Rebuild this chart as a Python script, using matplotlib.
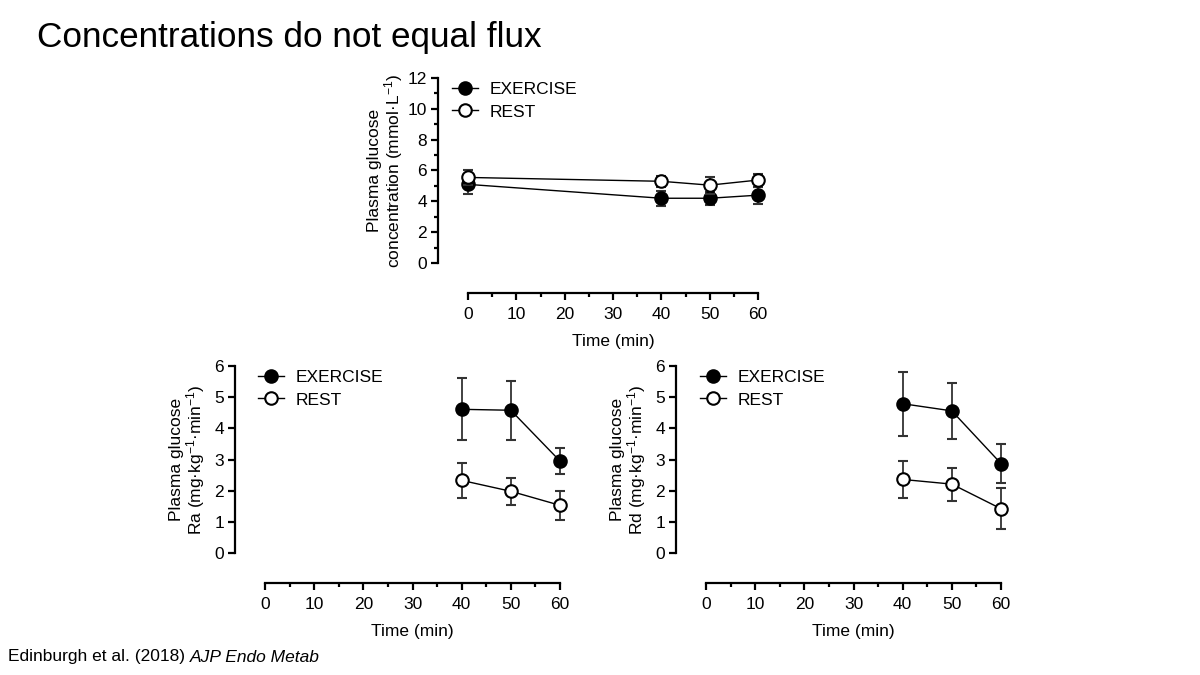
import matplotlib
matplotlib.use("Agg")
import matplotlib.pyplot as plt
from matplotlib.ticker import MultipleLocator
from matplotlib.lines import Line2D

plt.rcParams['font.family'] = ['Liberation Sans', 'DejaVu Sans']
plt.rcParams['mathtext.fontset'] = 'custom'
plt.rcParams['mathtext.rm'] = 'Liberation Sans'
plt.rcParams['mathtext.it'] = 'Liberation Sans:italic'
plt.rcParams['mathtext.default'] = 'regular'

# ---- data ----
time = [0, 40, 50, 60]
conc_ex = [5.1, 4.2, 4.2, 4.4]
conc_ex_err = [0.6, 0.48, 0.42, 0.55]
conc_rest = [5.55, 5.3, 5.05, 5.38]
conc_rest_err = [0.47, 0.35, 0.55, 0.42]

time_flux = [40, 50, 60]
ra_ex = [4.61, 4.58, 2.95]
ra_ex_err = [0.99, 0.94, 0.43]
ra_rest = [2.33, 1.98, 1.53]
ra_rest_err = [0.56, 0.44, 0.47]

rd_ex = [4.79, 4.56, 2.87]
rd_ex_err = [1.02, 0.91, 0.62]
rd_rest = [2.36, 2.21, 1.42]
rd_rest_err = [0.58, 0.53, 0.66]

labels = ['EXERCISE', 'REST']

fig = plt.figure(figsize=(12, 6.75), dpi=100)

W, H = 1200.0, 675.0

def make_ax(x0, x1, y_top, y_bot):
    return fig.add_axes([x0 / W, 1 - y_bot / H, (x1 - x0) / W, (y_bot - y_top) / H])

ax_top = make_ax(468, 758, 78, 263)
ax_ra = make_ax(265, 560, 366, 553)
ax_rd = make_ax(706, 1001, 366, 553)

MS = 9

def style(ax, ymax, ymajor, yminor, ylabel, leg_x, ylabelpad):
    ax.set_xlim(0, 60)
    ax.set_ylim(0, ymax)
    for s in ['top', 'right']:
        ax.spines[s].set_visible(False)
    ax.spines['left'].set_position(('outward', 21.5))
    ax.spines['bottom'].set_position(('outward', 21.5))
    for s in ['left', 'bottom']:
        ax.spines[s].set_linewidth(1.6)
    ax.xaxis.set_major_locator(MultipleLocator(10))
    ax.xaxis.set_minor_locator(MultipleLocator(5))
    ax.yaxis.set_major_locator(MultipleLocator(ymajor))
    if yminor:
        ax.yaxis.set_minor_locator(MultipleLocator(yminor))
    ax.tick_params(which='major', length=5, width=1.6, labelsize=12.5, pad=3)
    ax.tick_params(axis='x', which='major', pad=5)
    ax.tick_params(which='minor', length=3, width=1.6)
    ax.set_xlabel('Time (min)', fontsize=12.5, labelpad=9)
    ax.set_ylabel(ylabel, fontsize=12.5, labelpad=ylabelpad, linespacing=1.0)
    handles = [
        Line2D([], [], color='black', lw=1.0, marker='o', markersize=MS,
               mfc='black', mec='black', mew=1.5),
        Line2D([], [], color='black', lw=1.0, marker='o', markersize=MS,
               mfc='white', mec='black', mew=1.5),
    ]
    ax.legend(handles, labels, loc='upper left', bbox_to_anchor=(leg_x, 0.977),
              frameon=False, fontsize=12.5, handlelength=1.5, handletextpad=0.65,
              borderaxespad=0, borderpad=0, labelspacing=0.4)

def draw(ax, x, ex, exe, re, ree):
    ax.errorbar(x, ex, yerr=exe, fmt='-o', color='black', ecolor='#333333',
                elinewidth=1.3, capsize=3.5, capthick=1.3, lw=1.0,
                markersize=MS, mfc='black', mec='black', mew=1.5,
                clip_on=False, zorder=3)
    ax.errorbar(x, re, yerr=ree, fmt='-o', color='black', ecolor='#333333',
                elinewidth=1.3, capsize=3.5, capthick=1.3, lw=1.0,
                markersize=MS, mfc='white', mec='black', mew=1.5,
                clip_on=False, zorder=4)

draw(ax_top, time, conc_ex, conc_ex_err, conc_rest, conc_rest_err)
style(ax_top, 12, 2, 1, 'Plasma glucose\nconcentration (mmol·L$^{-1}$)', -0.055, 2)

draw(ax_ra, time_flux, ra_ex, ra_ex_err, ra_rest, ra_rest_err)
style(ax_ra, 6, 1, None, 'Plasma glucose\nRa (mg·kg$^{-1}$·min$^{-1}$)', -0.024, 5)

draw(ax_rd, time_flux, rd_ex, rd_ex_err, rd_rest, rd_rest_err)
style(ax_rd, 6, 1, None, 'Plasma glucose\nRd (mg·kg$^{-1}$·min$^{-1}$)', -0.02, 5)

fig.text(37 / W, 1 - 38 / H, 'Concentrations do not equal flux', fontsize=25.3,
         ha='left', va='center')
t1 = fig.text(8 / W, 1 - 657 / H, 'Edinburgh et al. (2018) ', fontsize=12.5,
              ha='left', va='center')
fig.canvas.draw()
bb = t1.get_window_extent()
fig.text(bb.x1 / W, 1 - 657 / H, 'AJP Endo Metab', fontsize=12.5, style='italic',
         ha='left', va='center')

fig.savefig('out.png', dpi=100)
